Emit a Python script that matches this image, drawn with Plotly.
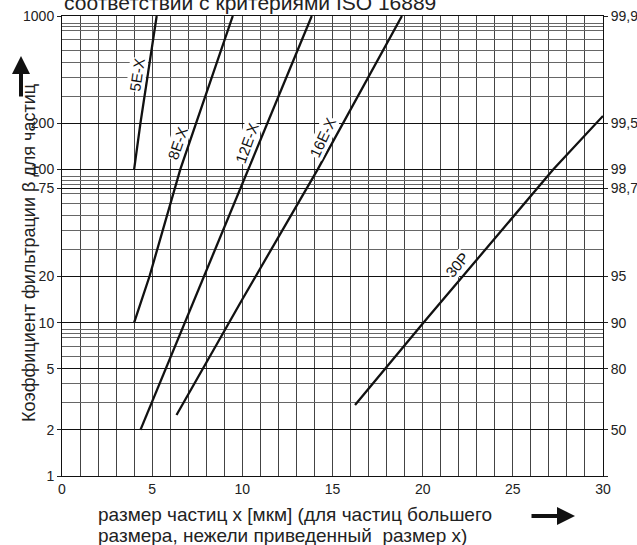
import math
import plotly.graph_objects as go

# ---- data ----
x_5E = [4.0, 4.35, 5.25]
beta_5E = [100, 200, 1000]
x_8E = [4.0, 4.85, 6.56, 9.47]
beta_8E = [10, 20, 100, 1000]
x_12E = [4.35, 6.8, 10.3, 13.85]
beta_12E = [2, 10, 100, 1000]
x_16E = [6.35, 9.97, 14.18, 18.85]
beta_16E = [2.5, 14, 100, 1000]
x_30P = [16.25, 17.92, 20.04, 27.25, 30.0]
beta_30P = [2.9, 5, 10, 100, 223]

series_names = ["5E-X", "8E-X", "12E-X", "16E-X", "30P"]
series_x = [x_5E, x_8E, x_12E, x_16E, x_30P]
series_beta = [beta_5E, beta_8E, beta_12E, beta_16E, beta_30P]
# label anchor points on the lines
label_x = [4.76, 6.98, 10.81, 15.01, 22.4]
label_beta = [406, 140, 140, 150, 21.4]
label_angle = [-81.6, -71.1, -70.3, -65.0, -50.0]

left_ticks = [1, 2, 5, 10, 20, 75, 100, 200, 1000]
left_text = ["1", "2", "5", "10", "20", "75", "100", "200", "1000"]
right_text = ["", "50", "80", "90", "95", "98,7", "99", "99,5", "99,9"]
minor_beta = [3, 4, 6, 7, 8, 8.5, 9, 30, 40, 50, 60, 70, 80, 85, 90,
              300, 400, 500, 600, 700, 800, 850, 900]
x_ticks = [0, 5, 10, 15, 20, 25, 30]
x_minor = list(range(0, 31))

title_top = "соответствии с критериями ISO 16889"
y_title = "Коэффициент фильтрации β для частиц"
x_title_lines = ["размер частиц x [мкм] (для частиц большего",
                 "размера, нежели приведенный  размер x)"]

W, H = 637, 545
ML, MR, MT, MB = 62, 34, 16, 69
PW, PH = W - ML - MR, H - MT - MB

FONT = "Liberation Sans, Arial, sans-serif"


def px_x(p):
    return (p - ML) / PW


def px_y(p):
    return (MT + PH - p) / PH


fig = go.Figure()
for name, xs, bs in zip(series_names, series_x, series_beta):
    fig.add_trace(go.Scatter(x=xs, y=bs, mode="lines", name=name,
                             line=dict(color="#111", width=2.3),
                             showlegend=False, hoverinfo="skip"))
# invisible trace for the right axis
fig.add_trace(go.Scatter(x=[0], y=[10], yaxis="y2", mode="markers",
                         marker=dict(opacity=0), showlegend=False,
                         hoverinfo="skip"))

annotations = []
d = 11
for name, lx, lb, ang in zip(series_names, label_x, label_beta, label_angle):
    th = math.radians(-ang)
    annotations.append(dict(
        x=lx, y=math.log10(lb), xref="x", yref="y", text=name,
        showarrow=False, textangle=ang,
        xshift=-d * math.sin(th), yshift=d * math.cos(th),
        font=dict(family=FONT, size=15, color="#111"),
        bgcolor="white", borderpad=0))

# cut-off title at the top
annotations.append(dict(
    x=0, y=1 + 0.5 / PH, xref="paper", yref="paper", xanchor="left",
    yanchor="bottom", text=title_top,
    showarrow=False, font=dict(family=FONT, size=21, color="#222")))
# y title
annotations.append(dict(
    x=px_x(17), y=px_y(253), xref="paper", yref="paper",
    text=y_title, textangle=-90,
    showarrow=False, font=dict(family=FONT, size=18, color="#222")))
# x title (two lines)
for line, yc in zip(x_title_lines, [514, 535]):
    annotations.append(dict(
        x=px_x(96), y=px_y(yc), xref="paper", yref="paper",
        xanchor="left", yanchor="middle", align="left", text=line,
        showarrow=False, font=dict(family=FONT, size=19, color="#222")))
# arrows
annotations.append(dict(
    x=px_x(21), y=px_y(56), xref="paper", yref="paper",
    ax=0, ay=42, text="", showarrow=True, arrowhead=2, arrowsize=0.9,
    arrowwidth=4, arrowcolor="#111"))
annotations.append(dict(
    x=px_x(575), y=px_y(516), xref="paper", yref="paper",
    ax=-45, ay=0, text="", showarrow=True, arrowhead=2, arrowsize=0.9,
    arrowwidth=4, arrowcolor="#111"))

fig.update_layout(
    width=W, height=H, margin=dict(l=ML, r=MR, t=MT, b=MB, autoexpand=False),
    paper_bgcolor="white", plot_bgcolor="white",
    font=dict(family=FONT, size=14, color="#222"),
    xaxis=dict(range=[0, 30], tickvals=x_ticks, ticks="",
               showline=True, linecolor="#111", linewidth=1,
               mirror=True, showgrid=True, gridcolor="#444", gridwidth=1,
               zeroline=False, automargin=False,
               minor=dict(tickvals=x_minor, showgrid=True, gridcolor="#444",
                          ticks=""),
               tickfont=dict(size=14)),
    yaxis=dict(type="log", range=[0, 3], tickvals=left_ticks,
               ticktext=left_text, ticks="outside", ticklen=4,
               tickcolor="#222", showline=True, linecolor="#111",
               linewidth=1, showgrid=True, gridcolor="#111", gridwidth=1,
               zeroline=False, automargin=False,
               minor=dict(tickvals=minor_beta, showgrid=True,
                          gridcolor="#666", ticks=""),
               tickfont=dict(size=14)),
    yaxis2=dict(type="log", range=[0, 3], overlaying="y", side="right",
                tickvals=left_ticks, ticktext=right_text, ticks="outside",
                ticklen=4, tickcolor="#222", showline=True, linecolor="#111",
                showgrid=False, zeroline=False, automargin=False,
                tickfont=dict(size=14)),
    annotations=annotations,
)

fig.write_html("out.html",
               config={"displayModeBar": False, "staticPlot": True},
               post_script="document.body.style.margin='0';"
                           "document.body.style.overflow='hidden';")
